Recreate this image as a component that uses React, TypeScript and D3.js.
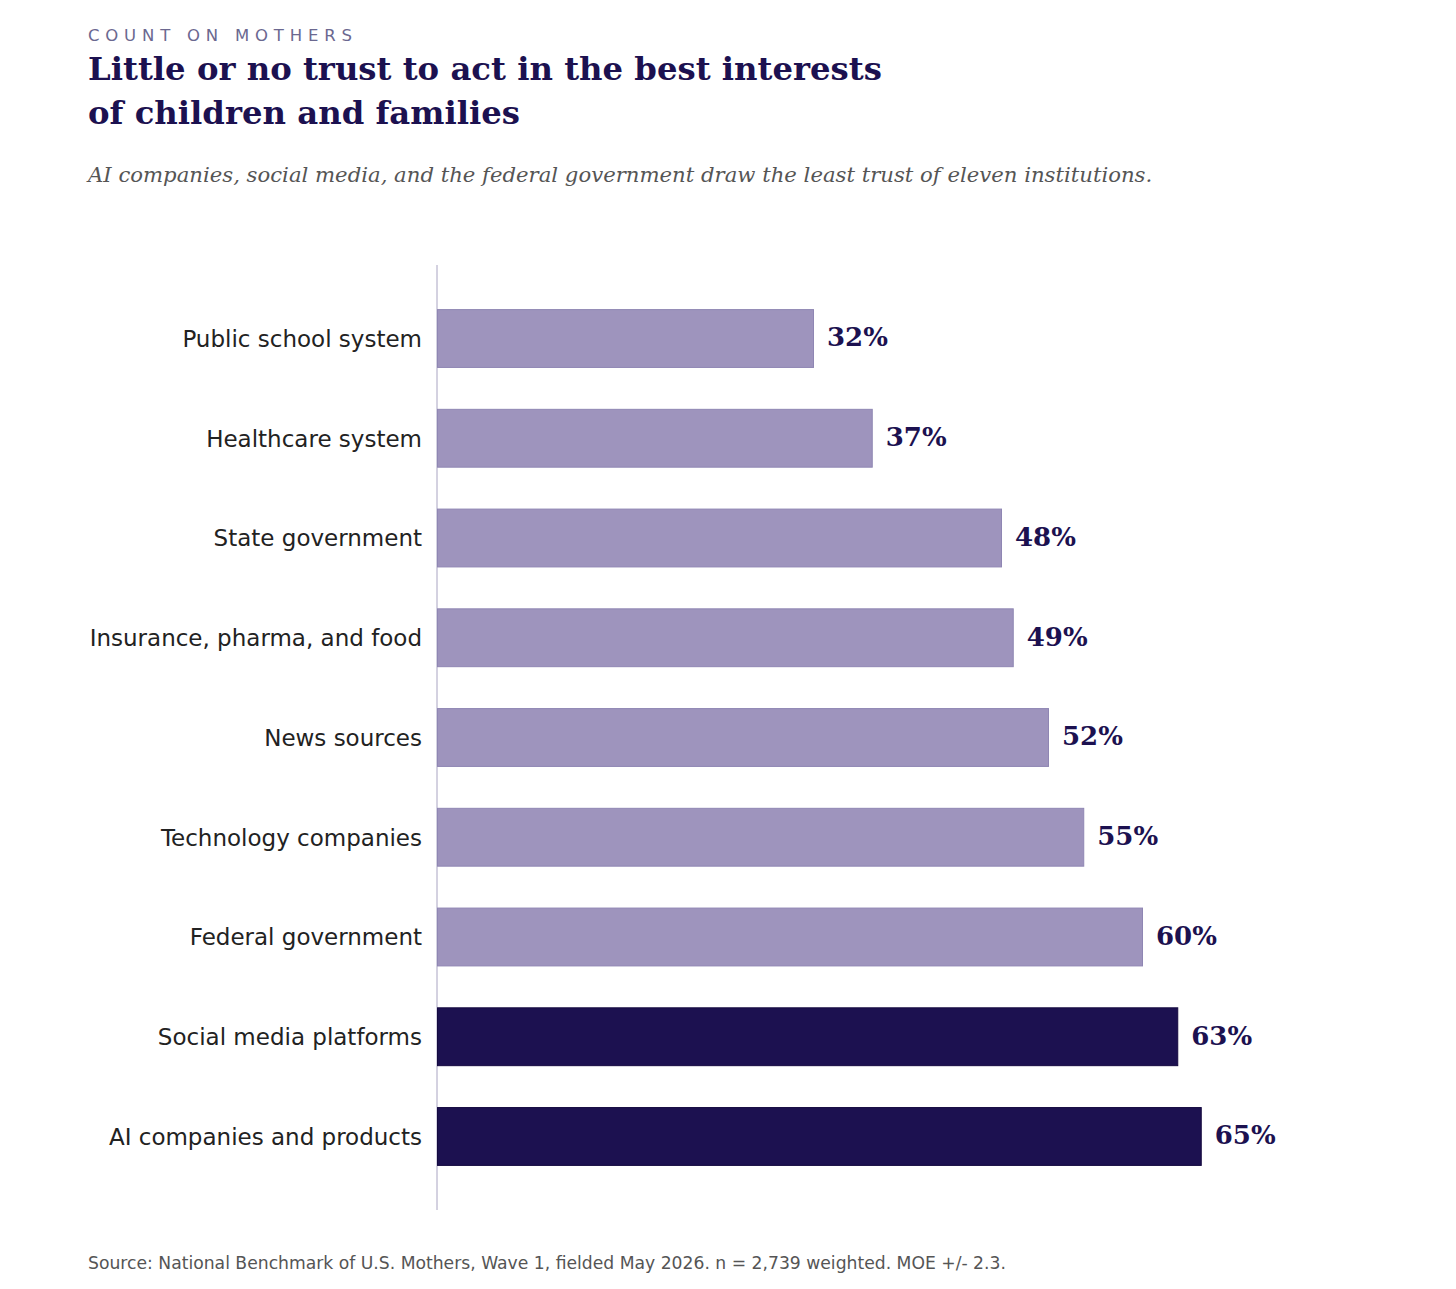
import React from "react";
import * as d3 from "d3";

const categories = [
  "Public school system",
  "Healthcare system",
  "State government",
  "Insurance, pharma, and food",
  "News sources",
  "Technology companies",
  "Federal government",
  "Social media platforms",
  "AI companies and products",
];
const values = [32, 37, 48, 49, 52, 55, 60, 63, 65];
const highlighted = ["Social media platforms", "AI companies and products"];

const W = 1456;
const H = 1289;

export default function App() {
  const x = d3.scaleLinear().domain([0, 100]).range([437, 1612]);
  const y = d3
    .scaleBand<string>()
    .domain(categories)
    .range([265, 1210])
    .paddingInner(0.42)
    .paddingOuter(0.447);
  const sans = "'DejaVu Sans', sans-serif";
  const serif = "'DejaVu Serif', serif";
  return (
    <svg
      width={W}
      height={H}
      style={{ position: "absolute", left: 0, top: 0, background: "#fff" }}
    >
      <text x={88} y={41} fontFamily={sans} fontSize={16.5} letterSpacing={5.8} fill="#6b6890">
        COUNT ON MOTHERS
      </text>
      <text x={88} y={80} fontFamily={serif} fontWeight="bold" fontSize={32.3} fill="#1c1150">
        Little or no trust to act in the best interests
      </text>
      <text x={88} y={124} fontFamily={serif} fontWeight="bold" fontSize={32.3} fill="#1c1150">
        of children and families
      </text>
      <text x={88} y={182} fontFamily={serif} fontStyle="italic" fontSize={21.2} fill="#555">
        AI companies, social media, and the federal government draw the least trust of eleven institutions.
      </text>
      <line x1={x(0)} x2={x(0)} y1={265} y2={1210} stroke="#a9a4c2" strokeWidth={1} />
      {categories.map((c, i) => {
        const yy = y(c)!;
        const hi = highlighted.includes(c);
        const cy = yy + y.bandwidth() / 2;
        return (
          <g key={c}>
            <rect
              x={x(0) + 0.5}
              y={yy}
              width={x(values[i]) - x(0)}
              height={y.bandwidth()}
              fill={hi ? "#1c1150" : "#9e94bd"}
              stroke={hi ? "#14093f" : "#8f86b3"}
              strokeWidth={1}
            />
            <text
              x={x(0) - 15}
              y={cy}
              dy="0.36em"
              textAnchor="end"
              fontFamily={sans}
              fontSize={23}
              fill="#222"
            >
              {c}
            </text>
            <text
              x={x(values[i]) + 14}
              y={cy}
              dy="0.3em"
              fontFamily={serif}
              fontWeight="bold"
              fontSize={26}
              fill="#1c1150"
            >
              {values[i]}%
            </text>
          </g>
        );
      })}
      <text x={88} y={1269} fontFamily={sans} fontSize={17.2} fill="#555">
        Source: National Benchmark of U.S. Mothers, Wave 1, fielded May 2026. n = 2,739 weighted. MOE +/- 2.3.
      </text>
    </svg>
  );
}
